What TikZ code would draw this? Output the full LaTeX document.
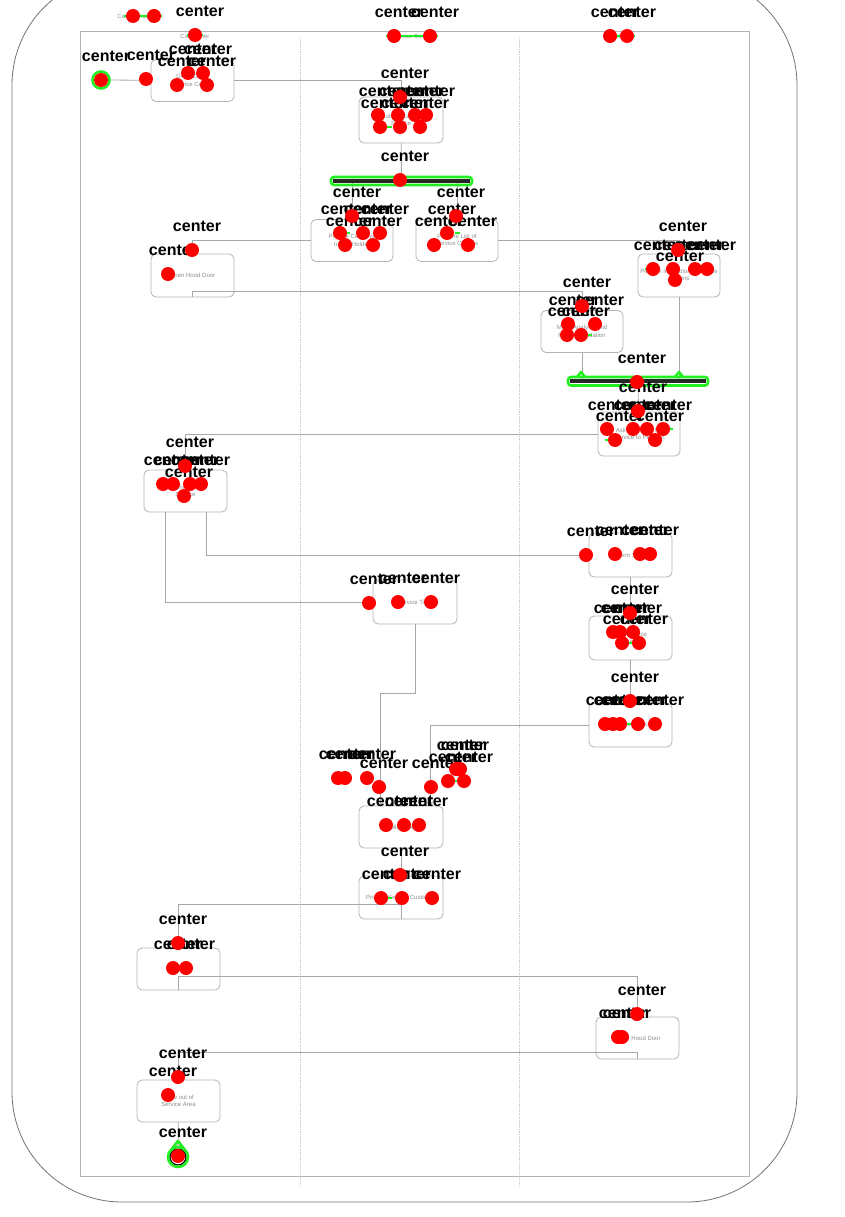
\documentclass[tikz,border=0pt]{standalone}
\usepackage{fontspec}
\setmainfont{Liberation Sans}
\newfontfamily\markfont{Liberation Sans}
\usetikzlibrary{arrows.meta}
\definecolor{boxgray}{HTML}{B4B4B4}
\definecolor{linegray}{HTML}{A8A8A8}
\definecolor{txtgray}{HTML}{8E8E8E}
\definecolor{lanegray}{HTML}{C8C8C8}
\definecolor{markgreen}{HTML}{22EE22}
\begin{document}
\begin{tikzpicture}[x=1pt,y=-1pt,
  act/.style={draw=boxgray, line width=0.8pt, rounded corners=5pt, fill=white,
    minimum width=83pt, minimum height=42pt, align=center, inner sep=1pt,
    font=\fontsize{6}{7.5}\selectfont, text=txtgray},
  flow/.style={draw=linegray, line width=0.8pt, -{Straight Barb[length=3pt,width=5pt]}},
  bar/.style={fill=black!85, minimum height=3.5pt, inner sep=0pt},
  head/.style={font=\fontsize{6}{7}\selectfont, text=txtgray, inner sep=0pt},
  lbl/.style={font=\markfont\bfseries\fontsize{16}{16}\selectfont, text=black, inner sep=0pt},
  dot/.style={circle, fill=red, minimum size=14pt, inner sep=0pt},
  glow/.style={draw=markgreen, line width=2.6pt}
]
\useasboundingbox (0,0) rectangle (845,1217);

% outer frame and swimlane pool
\draw[black!55, line width=0.8pt, rounded corners=110pt] (12,-25) rectangle (797,1202);
\draw[black!30, line width=0.9pt] (80,31) rectangle (749,1176);
\draw[lanegray, densely dotted, line width=0.8pt] (300,38) -- (300,1185);
\draw[lanegray, densely dotted, line width=0.8pt] (519,38) -- (519,1185);

% title and lane headers
\node[head] (title) at (133,16) {Car Service};
\node[head] (lane1) at (195,36) {Car Owner};
\node[head] (lane2) at (412,36) {Service Center};
\node[head] (lane3) at (620,36) {Mechanic};

% activities
\node[circle, fill=black, minimum size=12pt, inner sep=0pt] (start) at (101,80) {};
\node[act] (A) at (192.5,80.5) {Drive Car to\\Service Center};
\node[act, minimum width=84pt, minimum height=46pt] (B) at (401,120) {Submit Car for\\Service};
\node[bar, minimum width=137pt] (fork) at (401.5,181) {};
\node[act, minimum width=82pt] (C) at (352,240.5) {Provide Car Keys\\to Car Holder};
\node[act, minimum width=82pt] (D) at (457,240.5) {Prepare List of\\Service Options};
\node[act, minimum height=43pt] (E) at (192.5,275.5) {Open Hood Door};
\node[act, minimum width=82pt] (F) at (582,331.5) {Make Analysis and\\Recommendation};
\node[act, minimum width=82pt, minimum height=43pt] (G) at (679,275.5) {Perform Inspection of Engine\\Options};
\node[bar, minimum width=136pt] (join) at (638,381) {};
\node[act, minimum width=82pt, minimum height=44pt] (H) at (639,434) {Ask Customer for\\Service to Perform};
\node[act] (I) at (185.5,491) {Choose\\Service};
\node[act, minimum height=44pt] (K) at (630.5,555) {Perform Service};
\node[act, minimum width=84pt, minimum height=44pt] (J) at (415,602) {Service Time};
\node[act, minimum height=44pt] (L) at (630.5,638) {Test Service\\Done};
\node[act, minimum height=44pt] (M) at (630.5,725) {Prepare Invoice};
\node[act, minimum width=84pt] (N) at (401,827) {Collect Car};
\node[act, minimum width=84pt, minimum height=43pt] (O) at (401,897.5) {Provide Keys to Customer};
\node[act] (P) at (178.5,969) {Pay};
\node[act] (Q) at (637.5,1038) {Close Hood Door};
\node[act] (R) at (178.5,1101) {Drive out of\\Service Area};
\node[circle, draw=black, line width=1.2pt, minimum size=16pt, inner sep=0pt] (end) at (178,1157) {};
\fill[black] (end.center) circle (5pt);

% control flow
\draw[flow] (start) -- (A);
\draw[flow] (A.east) -| (B.north);
\draw[flow] (B) -- (fork);
\draw[flow] (fork.south -| C.north) -- (C.north);
\draw[flow] (fork.south -| D.north) -- (D.north);
\draw[flow] (C.west) -| (E.north);
\draw[flow] (D.east) -| (G.north);
\coordinate (eTurn) at ([yshift=6pt]E.south);
\draw[flow] (E.south) -- (eTurn) -| (F.north);
\draw[flow] (F.south) -- (F.south |- join.north);
\draw[flow] (G.south) -- (G.south |- join.north);
\draw[flow] (join) -- (H);
\draw[flow] (H.west) -| (I.north);
\coordinate (iLeft) at ([xshift=-20pt]I.south);
\coordinate (iRight) at ([xshift=21pt]I.south);
\draw[flow] (iLeft) |- (J.west);
\draw[flow] (iRight) |- (K.west);
\draw[flow] (K) -- (L);
\draw[flow] (L) -- (M);
\coordinate (nRight) at ([xshift=29pt]N.north);
\coordinate (nLeft) at ([xshift=-21pt]N.north);
\draw[flow] (M.west) -| (nRight);
\coordinate (jTurn) at (415,693);
\draw[flow] (J.south) -- (jTurn) -| (nLeft);
\draw[flow] (N) -- (O);
\coordinate (oTurn) at ([yshift=15pt]O.south);
\draw[flow] (O.south) -- (oTurn) -| (P.north);
\coordinate (pTurn) at ([yshift=14pt]P.south);
\draw[flow] (P.south) -- (pTurn) -| (Q.north);
\coordinate (qTurn) at ([yshift=7pt]Q.south);
\draw[flow] (Q.south) -- (qTurn) -| (R.north);
\draw[flow] (R) -- (end);

% highlighted outlines
\draw[glow] (start.center) circle (8.5pt);
\draw[glow, rounded corners=3pt] (331,177) rectangle (472,185);
\draw[glow, rounded corners=3pt] (568,377) rectangle (708,385.5);
\draw[glow, line join=round] (577,377) -- (581,372) -- (585,377);
\draw[glow, line join=round] (675,377) -- (679,372) -- (683,377);
\draw[glow] (end.center) circle (10pt);
\draw[glow, line join=round] (171,1150) -- (178,1141) -- (185,1150);
\draw[markgreen, line width=2.5pt] (124,16) -- (162,16);
\draw[markgreen, line width=2.5pt] (187,35) -- (203,35);
\draw[markgreen, line width=2.5pt] (386,36) -- (438,36);
\draw[markgreen, line width=2.5pt] (603,36) -- (635,36);
\draw[markgreen, line width=2pt] (386,127) -- (392,127);
\draw[markgreen, line width=2pt] (343,233) -- (350,233);
\draw[markgreen, line width=2pt] (455,233) -- (460,233);
\draw[markgreen, line width=2pt] (645,269) -- (650,269);
\draw[markgreen, line width=2pt] (672,280) -- (682,280);
\draw[markgreen, line width=2pt] (571,335) -- (592,335);
\draw[markgreen, line width=2pt] (665,429) -- (673,429);
\draw[markgreen, line width=2pt] (605,440) -- (612,440);
\draw[markgreen, line width=2pt] (621,643) -- (632,643);
\draw[markgreen, line width=2pt] (625,724) -- (635,724);
\draw[markgreen, line width=2pt] (452,781) -- (460,781);
\draw[markgreen, line width=2pt] (381,898) -- (392,898);

% centre markers with their labels
\foreach \px/\py [count=\i] in {
  133/16, 154/16, 195/35, 394/36, 430/36, 610/36, 627/36,
  101/80, 146/79, 188/73, 203/73, 177/85, 207/85,
  400/97, 378/115, 398/115, 415/115, 426/115, 380/127, 400/127, 420/127,
  400/180,
  352/216, 340/233, 363/233, 380/233, 345/245, 373/245,
  456/216, 447/233, 434/245, 468/245,
  192/250, 168/274,
  678/250, 653/269, 673/269, 695/269, 707/269, 675/280,
  582/306, 568/324, 595/324, 567/335, 581/335,
  637/382,
  638/411, 607/429, 633/429, 647/429, 663/429, 615/440, 655/440,
  185/466, 163/484, 173/484, 190/484, 201/484, 184/496,
  586/555, 615/554, 640/554, 650/554,
  369/603, 398/602, 431/602,
  630/613, 613/632, 620/632, 633/632, 622/643, 639/643,
  630/701, 605/724, 613/724, 620/724, 638/724, 655/724,
  338/778, 345/778, 367/778, 379/787, 431/787,
  456/769, 460/769, 448/781, 464/781,
  386/825, 404/825, 419/825,
  400/875, 381/898, 402/898, 432/898,
  178/943, 173/968, 186/968,
  637/1014, 618/1037, 622/1037,
  178/1077, 168/1095,
  178/1156} {
  \node[lbl] (lab\i) at ({\px+5},{\py-24}) {center};
}
\foreach \px/\py [count=\i] in {
  133/16, 154/16, 195/35, 394/36, 430/36, 610/36, 627/36,
  101/80, 146/79, 188/73, 203/73, 177/85, 207/85,
  400/97, 378/115, 398/115, 415/115, 426/115, 380/127, 400/127, 420/127,
  400/180,
  352/216, 340/233, 363/233, 380/233, 345/245, 373/245,
  456/216, 447/233, 434/245, 468/245,
  192/250, 168/274,
  678/250, 653/269, 673/269, 695/269, 707/269, 675/280,
  582/306, 568/324, 595/324, 567/335, 581/335,
  637/382,
  638/411, 607/429, 633/429, 647/429, 663/429, 615/440, 655/440,
  185/466, 163/484, 173/484, 190/484, 201/484, 184/496,
  586/555, 615/554, 640/554, 650/554,
  369/603, 398/602, 431/602,
  630/613, 613/632, 620/632, 633/632, 622/643, 639/643,
  630/701, 605/724, 613/724, 620/724, 638/724, 655/724,
  338/778, 345/778, 367/778, 379/787, 431/787,
  456/769, 460/769, 448/781, 464/781,
  386/825, 404/825, 419/825,
  400/875, 381/898, 402/898, 432/898,
  178/943, 173/968, 186/968,
  637/1014, 618/1037, 622/1037,
  178/1077, 168/1095,
  178/1156} {
  \node[dot] (dot\i) at (\px,\py) {};
}
\end{tikzpicture}
\end{document}
